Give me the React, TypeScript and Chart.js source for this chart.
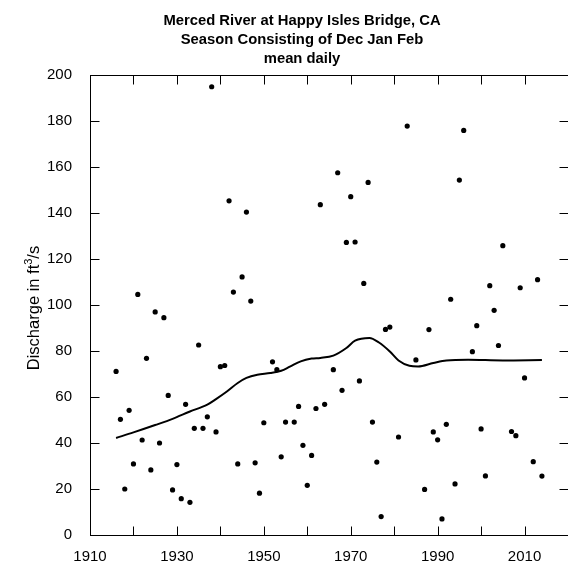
import React, { useEffect, useRef } from "react";
import { Chart, registerables } from "chart.js";

Chart.register(...registerables);

// Observed seasonal (Dec-Feb) mean daily discharge, ft3/s
const years = [
  1916, 1917, 1918, 1919, 1920, 1921, 1922, 1923, 1924, 1925,
  1926, 1927, 1928, 1929, 1930, 1931, 1932, 1933, 1934, 1935,
  1936, 1937, 1938, 1939, 1940, 1941, 1942, 1943, 1944, 1945,
  1946, 1947, 1948, 1949, 1950, 1952, 1953, 1954, 1955, 1957,
  1958, 1959, 1960, 1961, 1962, 1963, 1964, 1966, 1967, 1968,
  1969, 1970, 1971, 1972, 1973, 1974, 1975, 1976, 1977, 1978,
  1979, 1981, 1983, 1985, 1987, 1988, 1989, 1990, 1991, 1992,
  1993, 1994, 1995, 1996, 1998, 1999, 2000, 2001, 2002, 2003,
  2004, 2005, 2007, 2008, 2009, 2010, 2012, 2013, 2014,
];
const discharge = [
  71.1, 50.3, 20.0, 54.2, 30.9, 104.6, 41.3, 76.8, 28.3, 97.0,
  40.0, 94.5, 60.7, 19.6, 30.6, 15.8, 56.8, 14.2, 46.4, 82.6,
  46.4, 51.4, 194.9, 44.8, 73.2, 73.7, 145.3, 105.6, 30.9, 112.2,
  140.4, 101.7, 31.4, 18.2, 48.8, 75.3, 71.9, 34.0, 49.1, 49.1,
  55.9, 39.0, 21.6, 34.6, 55.0, 143.6, 56.8, 71.9, 157.5, 62.9,
  127.2, 147.1, 127.4, 67.0, 109.4, 153.3, 49.1, 31.7, 8.0, 89.4,
  90.4, 42.6, 177.8, 76.1, 19.8, 89.3, 44.8, 41.4, 7.0, 48.1,
  102.5, 22.2, 154.3, 175.9, 79.7, 91.0, 46.1, 25.7, 108.4, 97.7,
  82.4, 125.8, 45.0, 43.2, 107.5, 68.3, 31.9, 111.0, 25.6,
];

// Smoothed trend curve
const smoothYears = [
  1916, 1920, 1925, 1929, 1933, 1937, 1939, 1941.5, 1944, 1946,
  1948.5, 1951.5, 1954, 1956, 1958.5, 1961, 1963, 1966, 1969, 1971,
  1974.3, 1976.5, 1979, 1981, 1983.5, 1985.5, 1989, 1992, 1997, 2005, 2014,
];
const smoothValues = [
  42.2, 44.6, 47.8, 50.5, 53.7, 56.7, 59.1, 62.4, 66.1, 68.3,
  69.7, 70.4, 71.4, 73.2, 75.5, 76.7, 77.0, 78.0, 81.3, 84.5,
  85.7, 83.7, 79.8, 75.9, 73.6, 73.3, 74.8, 75.9, 76.2, 75.9, 76.1,
];

const titleLines = [
  "Merced River at Happy Isles Bridge, CA",
  "Season Consisting of Dec Jan Feb",
  "mean daily",
];
const xLabelYears = [1910, 1930, 1950, 1970, 1990, 2010];
const yTitleMain = "Discharge in ft";
const yTitleSup = "3";
const yTitleEnd = "/s";

const FONT = "'Liberation Sans', Arial, Helvetica, sans-serif";

const framePlugin = {
  id: "frameTicks",
  afterDraw(chart: any) {
    const { ctx, chartArea, scales } = chart;
    const { left, right, top, bottom } = chartArea;
    const L = Math.round(left) + 0.5;
    const R = Math.round(right) + 0.5;
    const T = Math.round(top) + 0.5;
    const B = Math.round(bottom) + 0.5;
    const len = 9;
    ctx.save();
    ctx.strokeStyle = "#000";
    ctx.lineWidth = 1;
    ctx.strokeRect(L, T, R - L, B - T);
    ctx.beginPath();
    scales.x.ticks.forEach((t: any) => {
      const px = Math.round(scales.x.getPixelForValue(t.value)) + 0.5;
      ctx.moveTo(px, B);
      ctx.lineTo(px, B - len);
      ctx.moveTo(px, T);
      ctx.lineTo(px, T + len);
    });
    scales.y.ticks.forEach((t: any) => {
      const py = Math.round(scales.y.getPixelForValue(t.value)) + 0.5;
      ctx.moveTo(L, py);
      ctx.lineTo(L + len, py);
      ctx.moveTo(R, py);
      ctx.lineTo(R - len, py);
    });
    ctx.stroke();

    // title
    ctx.fillStyle = "#000";
    ctx.font = `bold 14.8px ${FONT}`;
    ctx.textAlign = "center";
    ctx.textBaseline = "middle";
    const cx = (left + right) / 2 - 27;
    titleLines.forEach((line, i) => {
      ctx.fillText(line, cx, 21 + i * 19);
    });

    // y-axis title with a real superscript
    const mainFont = `16.5px ${FONT}`;
    const supFont = `11px ${FONT}`;
    ctx.font = mainFont;
    const w1 = ctx.measureText(yTitleMain).width;
    const w3 = ctx.measureText(yTitleEnd).width;
    ctx.font = supFont;
    const w2 = ctx.measureText(yTitleSup).width;
    const total = w1 + w2 + w3;
    const cy = (top + bottom) / 2 + 3;
    ctx.translate(39, cy);
    ctx.rotate(-Math.PI / 2);
    ctx.textAlign = "left";
    ctx.textBaseline = "alphabetic";
    let xpos = -total / 2;
    ctx.font = mainFont;
    ctx.fillText(yTitleMain, xpos, 0);
    xpos += w1;
    ctx.font = supFont;
    ctx.fillText(yTitleSup, xpos, -7);
    xpos += w2;
    ctx.font = mainFont;
    ctx.fillText(yTitleEnd, xpos, 0);
    ctx.restore();
  },
};

export default function App() {
  const canvasRef = useRef<HTMLCanvasElement | null>(null);

  useEffect(() => {
    document.body.style.margin = "0";
    document.body.style.overflow = "hidden";
    const canvas = canvasRef.current;
    if (!canvas) return;
    const chart = new Chart(canvas, {
      type: "scatter",
      data: {
        datasets: [
          {
            type: "scatter",
            data: years.map((yr, i) => ({ x: yr, y: discharge[i] })),
            pointRadius: 2.6,
            pointBackgroundColor: "#000",
            pointBorderWidth: 0,
            backgroundColor: "#000",
            borderColor: "#000",
          },
          {
            type: "line",
            data: smoothYears.map((yr, i) => ({ x: yr, y: smoothValues[i] })),
            borderColor: "#000",
            borderWidth: 2,
            pointRadius: 0,
            fill: false,
            cubicInterpolationMode: "monotone",
          } as any,
        ],
      },
      options: {
        responsive: false,
        animation: false,
        devicePixelRatio: 1,
        layout: { autoPadding: false, padding: { top: 75, left: 0, right: 0, bottom: 0 } },
        plugins: {
          legend: { display: false },
          tooltip: { enabled: false },
          title: { display: false },
        },
        scales: {
          x: {
            type: "linear",
            min: 1910,
            max: 2020,
            afterFit: (s: any) => {
              s.height = 36;
              s.paddingLeft = 0;
              s.paddingRight = 0;
            },
            grid: { display: false, drawTicks: false },
            border: { display: false },
            ticks: {
              stepSize: 10,
              autoSkip: false,
              maxRotation: 0,
              padding: 13,
              color: "#000",
              font: { family: FONT, size: 15 },
              callback: (v: any) => (xLabelYears.includes(Number(v)) ? String(v) : ""),
            },
          },
          y: {
            type: "linear",
            min: 0,
            max: 200,
            afterFit: (s: any) => {
              s.width = 90;
              s.paddingTop = 0;
              s.paddingBottom = 0;
            },
            grid: { display: false, drawTicks: false },
            border: { display: false },
            ticks: {
              stepSize: 20,
              padding: 18,
              color: "#000",
              font: { family: FONT, size: 15 },
            },
          },
        },
      },
      plugins: [framePlugin],
    });
    return () => chart.destroy();
  }, []);

  return (
    <canvas
      ref={canvasRef}
      width={568}
      height={571}
      style={{ display: "block", width: 568, height: 571 }}
    />
  );
}
